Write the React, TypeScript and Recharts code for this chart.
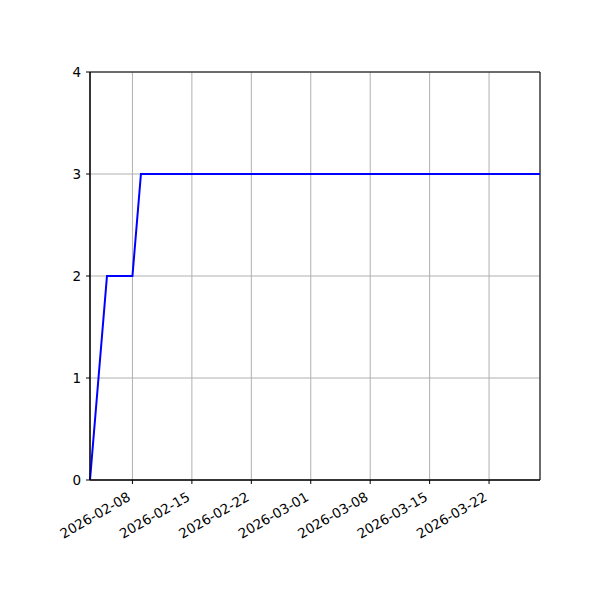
import { LineChart, Line, XAxis, YAxis, CartesianGrid, ReferenceArea } from "recharts";

const dates = ["2026-02-03", "2026-02-05", "2026-02-08", "2026-02-09", "2026-03-28"];
const counts = [0, 2, 2, 3, 3];
const xTickDates = ["2026-02-08", "2026-02-15", "2026-02-22", "2026-03-01", "2026-03-08", "2026-03-15", "2026-03-22"];
const yTicks = [0, 1, 2, 3, 4];
const xStart = "2026-02-03";
const xEnd = "2026-03-28";

const toTs = (d: string) => Date.parse(d + "T00:00:00Z");
const fmt = (ts: number) => new Date(ts).toISOString().slice(0, 10);

const data = dates.map((d, i) => ({ t: toTs(d), v: counts[i] }));

const FONT = "DejaVu Sans, sans-serif";

// rotated date labels, right end sits under the tick like matplotlib autofmt_xdate
const DateTick = ({ x, y, payload }: any) => (
  <g transform={`translate(${x - 6},${y + 5})`}>
    <text
      transform="rotate(-30)"
      textAnchor="end"
      dy={10}
      fontSize={13.5}
      fontFamily={FONT}
      fill="#000"
    >
      {fmt(payload.value)}
    </text>
  </g>
);

export default function App() {
  return (
    <div style={{ position: "absolute", left: 0, top: 0, background: "#fff" }}>
      <LineChart width={600} height={600} data={data} margin={{ top: 72, right: 60, left: 50, bottom: 50 }}>
        <CartesianGrid stroke="#b0b0b0" strokeWidth={1} />
        <XAxis
          dataKey="t"
          type="number"
          scale="time"
          domain={[toTs(xStart), toTs(xEnd)]}
          ticks={xTickDates.map(toTs)}
          tick={<DateTick />}
          tickLine={{ stroke: "#000" }}
          tickSize={4}
          axisLine={{ stroke: "#000" }}
          height={70}
          interval={0}
        />
        <YAxis
          type="number"
          domain={[0, 4]}
          ticks={yTicks}
          tick={{ fill: "#000", fontSize: 13.5, fontFamily: FONT }}
          tickLine={{ stroke: "#000" }}
          tickSize={4}
          tickMargin={5}
          axisLine={{ stroke: "#000" }}
          width={40}
          interval={0}
        />
        <ReferenceArea
          x1={toTs(xStart)}
          x2={toTs(xEnd)}
          y1={0}
          y2={4}
          fill="none"
          stroke="#000"
          strokeWidth={1}
        />
        <Line
          type="linear"
          dataKey="v"
          stroke="#0000ff"
          strokeWidth={2}
          dot={false}
          isAnimationActive={false}
        />
      </LineChart>
    </div>
  );
}
